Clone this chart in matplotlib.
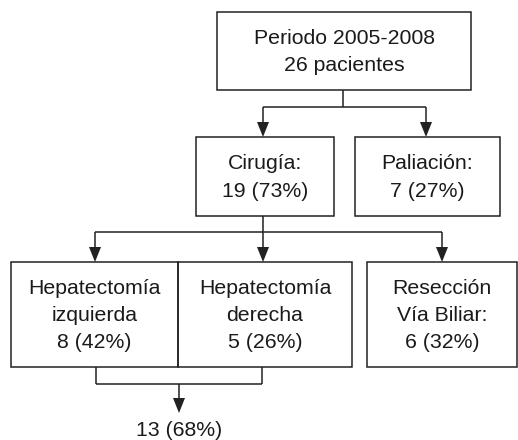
import matplotlib.pyplot as plt
from matplotlib.patches import Rectangle, Polygon

plt.rcParams['font.family'] = ['Liberation Sans', 'DejaVu Sans']

# textos de las cajas
box_labels = {
    'top': 'Periodo 2005-2008\n26 pacientes',
    'cir': 'Cirugía:\n19 (73%)',
    'pal': 'Paliación:\n7 (27%)',
    'hi': 'Hepatectomía\nizquierda\n8 (42%)',
    'hd': 'Hepatectomía\nderecha\n5 (26%)',
    'rvb': 'Resección\nVía Biliar:\n6 (32%)',
}
final_label = '13 (68%)'

# caja: (x0, y0, x1, y1) en pixeles, y hacia abajo
boxes = {
    'top': (217, 12, 471, 90),
    'cir': (196, 137, 334, 216),
    'pal': (355, 137, 500, 216),
    'hi': (11, 262, 178, 367),
    'hd': (178, 262, 352, 367),
    'rvb': (367, 262, 517, 367),
}

LC = '#222222'
LW = 1.1

fig = plt.figure(figsize=(5.18, 4.40), dpi=100)
ax = fig.add_axes([0, 0, 1, 1])
ax.set_xlim(0, 518)
ax.set_ylim(440, 0)
ax.axis('off')


def line(xs, ys):
    ax.plot(xs, ys, color=LC, lw=LW, solid_capstyle='butt')


def arrow(x, y0, y1, w=6, h=15):
    line([x, x], [y0, y1 - h])
    ax.add_patch(Polygon([[x - w, y1 - h], [x + w, y1 - h], [x, y1]],
                         closed=True, color=LC, lw=0))


for k, (x0, y0, x1, y1) in boxes.items():
    ax.add_patch(Rectangle((x0, y0), x1 - x0, y1 - y0, fill=False,
                           ec=LC, lw=LW))
    ax.text((x0 + x1) / 2, (y0 + y1) / 2 + 1, box_labels[k], ha='center',
            va='center', fontsize=15.3, color='#1a1a1a', linespacing=1.55)

# nivel 1
line([343, 343], [90, 107])
line([263, 426], [107, 107])
arrow(263, 107, 137)
arrow(426, 107, 137)

# nivel 2
line([263, 263], [216, 232])
line([95, 442], [232, 232])
arrow(95, 232, 262)
arrow(263, 232, 262)
arrow(442, 232, 262)

# union hepatectomias
line([96, 96], [367, 384])
line([262, 262], [367, 384])
line([96, 262], [384, 384])
arrow(179, 384, 413)
ax.text(179, 430, final_label, ha='center', va='center', fontsize=15.3,
        color='#1a1a1a')

fig.savefig('out.png', dpi=100, facecolor='white')
